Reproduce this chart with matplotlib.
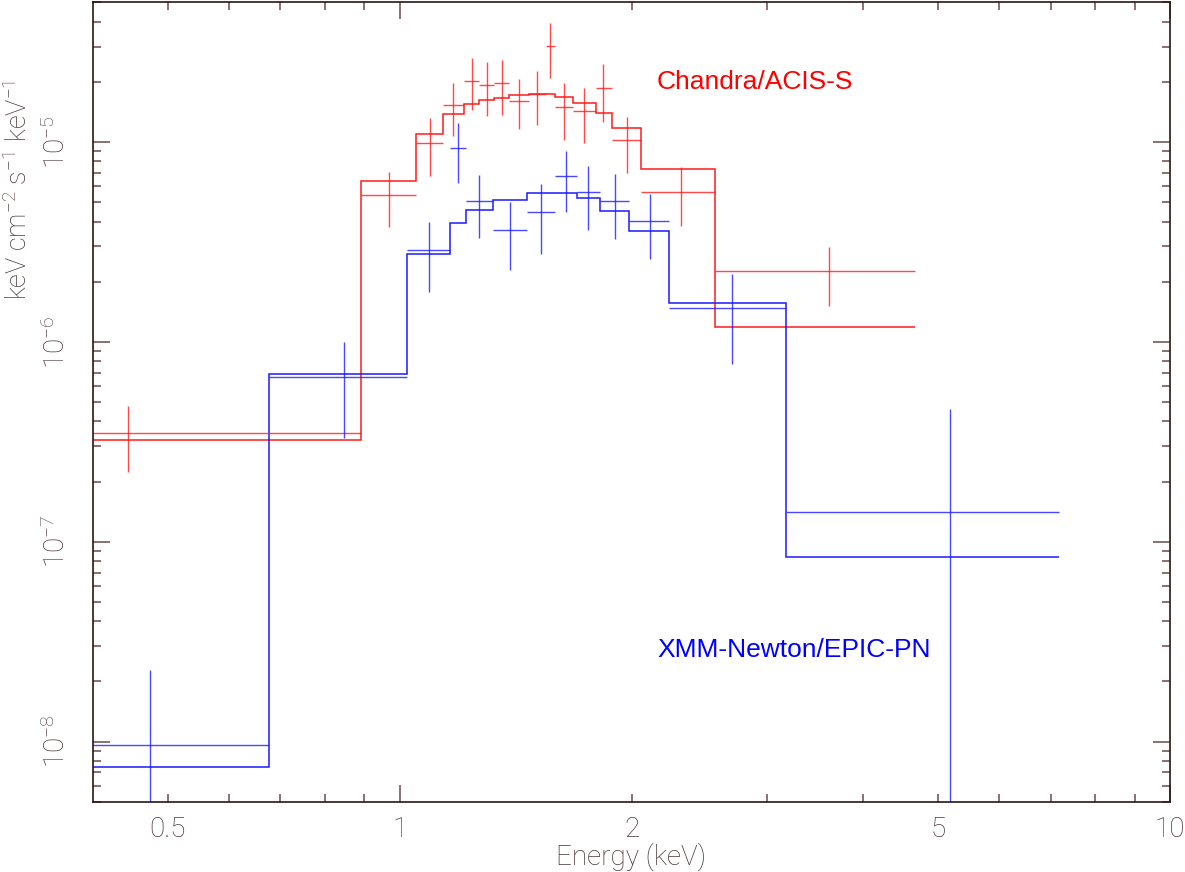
import numpy as np
import matplotlib
matplotlib.use('Agg')
import matplotlib.pyplot as plt
from matplotlib.ticker import FixedLocator, FuncFormatter, NullFormatter

# ---------------- data ----------------
# Chandra/ACIS-S (red): bin edges (keV), plotted energy, flux, 1-sigma error, model
acis_lo = [0.30, 0.890, 1.050, 1.138, 1.212, 1.268, 1.326, 1.387, 1.472, 1.547,
           1.590, 1.680, 1.796, 1.884, 2.059, 2.569]
acis_hi = [0.890, 1.050, 1.138, 1.212, 1.268, 1.326, 1.387, 1.472, 1.547, 1.590,
           1.680, 1.796, 1.884, 2.059, 2.569, 4.661]
acis_e = [0.444, 0.970, 1.094, 1.174, 1.240, 1.299, 1.357, 1.429, 1.510, 1.568,
          1.634, 1.736, 1.837, 1.971, 2.318, 3.614]
acis_flux = [3.51e-7, 5.43e-6, 9.93e-6, 1.526e-5, 2.028e-5, 1.928e-5, 1.966e-5,
             1.611e-5, 1.746e-5, 3.009e-5, 1.491e-5, 1.424e-5, 1.856e-5,
             1.020e-5, 5.62e-6, 2.249e-6]
acis_err = [1.29e-7, 1.66e-6, 3.19e-6, 4.5e-6, 5.9e-6, 5.86e-6, 5.98e-6,
            4.48e-6, 5.25e-6, 9.2e-6, 4.73e-6, 4.33e-6, 5.98e-6, 3.2e-6,
            1.84e-6, 7.4e-7]
acis_model = [3.214e-7, 6.38e-6, 1.102e-5, 1.376e-5, 1.556e-5, 1.629e-5, 1.660e-5,
              1.726e-5, 1.738e-5, 1.738e-5, 1.687e-5, 1.574e-5, 1.403e-5,
              1.180e-5, 7.30e-6, 1.180e-6]

# XMM-Newton/EPIC-PN (blue)
pn_lo = [0.274, 0.676, 1.022, 1.164, 1.218, 1.322, 1.464, 1.592, 1.697, 1.819,
         1.987, 2.235, 3.172]
pn_hi = [0.676, 1.022, 1.164, 1.218, 1.322, 1.464, 1.592, 1.697, 1.819, 1.987,
         2.235, 3.172, 7.180]
pn_e = [0.475, 0.848, 1.092, 1.191, 1.269, 1.393, 1.527, 1.644, 1.758, 1.903,
        2.111, 2.703, 5.176]
pn_flux = [9.63e-9, 6.64e-7, 2.873e-6, 9.376e-6, 5.093e-6, 3.648e-6, 4.477e-6,
           6.737e-6, 5.623e-6, 5.093e-6, 4.036e-6, 1.479e-6, 1.403e-7]
pn_err = [1.32e-8, 3.35e-7, 1.10e-6, 3.13e-6, 1.78e-6, 1.36e-6, 1.71e-6,
          2.28e-6, 2.0e-6, 1.81e-6, 1.445e-6, 7.04e-7, 3.19e-7]
pn_model = [7.50e-9, 6.90e-7, 2.767e-6, 3.91e-6, 4.592e-6, 5.11e-6, 5.526e-6,
            5.526e-6, 5.272e-6, 4.503e-6, 3.576e-6, 1.567e-6, 8.356e-8]

x_major = [1, 10]
x_minor = [0.5, 0.6, 0.7, 0.8, 0.9, 2, 3, 4, 5, 6, 7, 8, 9]
x_labelled = {0.5: '0.5', 1: '1', 2: '2', 5: '5', 10: '10'}
y_major = [1e-8, 1e-7, 1e-6, 1e-5]
y_major_labels = [r'$10^{-8}$', r'$10^{-7}$', r'$10^{-6}$', r'$10^{-5}$']

# ---------------- style ----------------
W, H = 1185, 872
plt.rcParams['font.family'] = ['Roboto', 'DejaVu Sans']
plt.rcParams['font.weight'] = 'light'
plt.rcParams['mathtext.fontset'] = 'custom'
plt.rcParams['mathtext.rm'] = 'Roboto:weight=light'
plt.rcParams['mathtext.it'] = 'Roboto:weight=light'
plt.rcParams['mathtext.default'] = 'rm'

FRAME = '#2a1515'
TICK = '#6a4a4a'
TXT = '#4a3535'
RED = '#ff1a1a'
BLUE = '#1a1aff'

fig = plt.figure(figsize=(W / 100, H / 100), dpi=100)
ax = fig.add_axes([93 / W, (H - 801.7) / H, (1170 - 93) / W, (801.7 - 2.3) / H])
ax.set_xscale('log')
ax.set_yscale('log')
ax.set_xlim(0.4, 10)
ax.set_ylim(5e-9, 5e-5)


def draw(lo, hi, e, flux, err, model, color):
    lo = np.array(lo); hi = np.array(hi); e = np.array(e)
    flux = np.array(flux); err = np.array(err)
    bottom = np.clip(flux - err, 1e-12, None)
    ax.errorbar(e, flux, xerr=[e - lo, hi - e], yerr=[flux - bottom, err],
                fmt='none', ecolor=color, elinewidth=1.0, capsize=0, alpha=0.8)
    edges = np.append(lo, hi[-1])
    ax.stairs(model, edges, baseline=None, color=color, lw=1.1)


draw(acis_lo, acis_hi, acis_e, acis_flux, acis_err, acis_model, RED)
draw(pn_lo, pn_hi, pn_e, pn_flux, pn_err, pn_model, BLUE)

for s in ax.spines.values():
    s.set_color(FRAME)
    s.set_linewidth(1.2)

ax.xaxis.set_major_locator(FixedLocator(x_major))
ax.xaxis.set_minor_locator(FixedLocator(x_minor))
fmt = FuncFormatter(lambda v, p: x_labelled.get(round(v, 3) if v < 1 else int(round(v)), ''))
ax.xaxis.set_major_formatter(fmt)
ax.xaxis.set_minor_formatter(fmt)

ax.yaxis.set_major_locator(FixedLocator(y_major))
ax.set_yticklabels(y_major_labels)
ax.yaxis.set_minor_locator(FixedLocator([m * 10.0 ** k for k in range(-9, -4)
                                          for m in range(2, 10)]))
ax.yaxis.set_minor_formatter(NullFormatter())

ax.tick_params(which='both', direction='in', top=True, right=True,
               color=TICK, width=1.1, labelcolor=TXT, labelsize=20)
ax.tick_params(which='major', length=12)
ax.tick_params(which='minor', length=6)
ax.tick_params(axis='x', which='both', pad=10)
ax.tick_params(axis='y', which='both', pad=16)
for t in ax.get_yticklabels():
    t.set_rotation(90)
    t.set_va('center')

fig.text(631.5 / W, 1 - 857 / H, 'Energy (keV)', ha='center', va='center',
         fontsize=20, color=TXT)
fig.text(19 / W, 1 - 190 / H, r'keV cm$^{-2}$ s$^{-1}$ keV$^{-1}$', rotation=90,
         ha='center', va='center', fontsize=19.5, color=TXT)

fig.text(657 / W, 1 - 89 / H, 'Chandra/ACIS-S', color='#ff0000', fontsize=19,
         family=['Liberation Sans'], weight='normal', ha='left', va='baseline')
fig.text(657 / W, 1 - 656.7 / H, 'XMM-Newton/EPIC-PN', color='#0000ff', fontsize=19,
         family=['Liberation Sans'], weight='normal', ha='left', va='baseline')

fig.savefig('out.png', dpi=100, facecolor='white')
